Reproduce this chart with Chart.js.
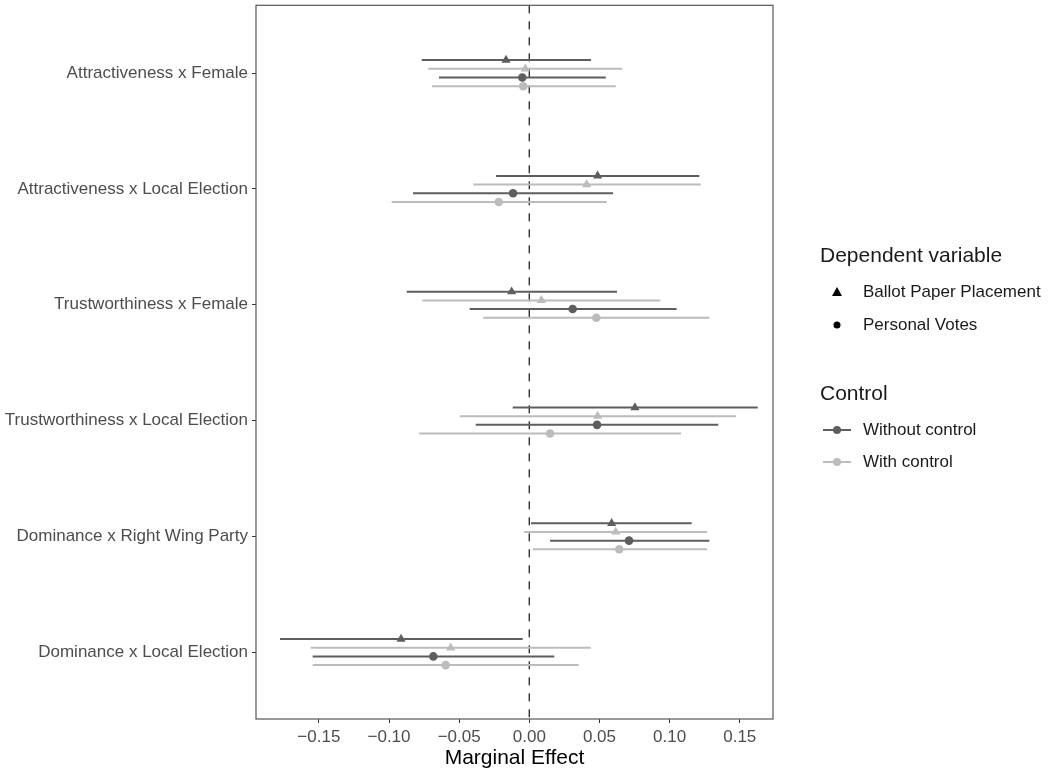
<!DOCTYPE html>
<html>
<head>
<meta charset="utf-8">
<script src="https://cdn.jsdelivr.net/npm/chart.js@4.4.1/dist/chart.umd.min.js"></script>
<style>
  html, body { margin: 0; padding: 0; background: #fff; }
  #wrap { width: 1053px; height: 771px; position: relative; }
</style>
</head>
<body>
<div id="wrap"><canvas id="chart"></canvas></div>
<script>
// categories, top to bottom
const terms = [
    'Attractiveness x Female',
    'Attractiveness x Local Election',
    'Trustworthiness x Female',
    'Trustworthiness x Local Election',
    'Dominance x Right Wing Party',
    'Dominance x Local Election'
];
const xTicks = [-0.15, -0.10, -0.05, 0.00, 0.05, 0.10, 0.15];

// Ballot Paper Placement, without control
const ballotNoCtrl = [-0.0166, 0.0487, -0.0126, 0.0753, 0.0587, -0.0914];
const ballotNoCtrlLo = [-0.0767, -0.0237, -0.0874, -0.0118, 0.0012, -0.1777];
const ballotNoCtrlHi = [0.0440, 0.1212, 0.0625, 0.1628, 0.1157, -0.0047];
// Ballot Paper Placement, with control
const ballotCtrl = [-0.0028, 0.0409, 0.0086, 0.0487, 0.0616, -0.0560];
const ballotCtrlLo = [-0.0720, -0.0399, -0.0762, -0.0496, -0.0036, -0.1558];
const ballotCtrlHi = [0.0663, 0.1222, 0.0934, 0.1473, 0.1267, 0.0438];
// Personal Votes, without control
const votesNoCtrl = [-0.0050, -0.0116, 0.0309, 0.0483, 0.0711, -0.0684];
const votesNoCtrlLo = [-0.0644, -0.0829, -0.0425, -0.0382, 0.0148, -0.1544];
const votesNoCtrlHi = [0.0545, 0.0597, 0.1050, 0.1347, 0.1283, 0.0178];
// Personal Votes, with control
const votesCtrl = [-0.0043, -0.0218, 0.0478, 0.0148, 0.0641, -0.0596];
const votesCtrlLo = [-0.0693, -0.0981, -0.0328, -0.0784, 0.0026, -0.1544];
const votesCtrlHi = [0.0616, 0.0552, 0.1283, 0.1081, 0.1267, 0.0352];

const darkGrey = '#5e5e5e';
const lightGrey = '#bcbcbc';
const fontFamily = '"Liberation Sans", Arial, Helvetica, sans-serif';

const series = [
    { label: 'Ballot Paper Placement / Without control', est: ballotNoCtrl, lo: ballotNoCtrlLo, hi: ballotNoCtrlHi, color: darkGrey, shape: 'triangle', dodge: -0.1125 },
    { label: 'Ballot Paper Placement / With control', est: ballotCtrl, lo: ballotCtrlLo, hi: ballotCtrlHi, color: lightGrey, shape: 'triangle', dodge: -0.0375 },
    { label: 'Personal Votes / Without control', est: votesNoCtrl, lo: votesNoCtrlLo, hi: votesNoCtrlHi, color: darkGrey, shape: 'circle', dodge: 0.0375 },
    { label: 'Personal Votes / With control', est: votesCtrl, lo: votesCtrlLo, hi: votesCtrlHi, color: lightGrey, shape: 'circle', dodge: 0.1125 }
];

// horizontal error bars + zero line + panel border
const errorBars = {
    id: 'errorBars',
    beforeDatasetsDraw(chart) {
        const ctx = chart.ctx;
        const xs = chart.scales.x;
        const ys = chart.scales.y;
        const area = chart.chartArea;
        ctx.save();
        // dashed zero line
        ctx.strokeStyle = '#333';
        ctx.lineWidth = 1.4;
        ctx.setLineDash([8, 8]);
        const x0 = xs.getPixelForValue(0);
        ctx.beginPath();
        ctx.moveTo(x0, area.top);
        ctx.lineTo(x0, area.bottom);
        ctx.stroke();
        ctx.setLineDash([]);
        series.forEach(s => {
            ctx.strokeStyle = s.color;
            ctx.lineWidth = 2;
            s.est.forEach((v, i) => {
                const y = ys.getPixelForValue(i + s.dodge);
                ctx.beginPath();
                ctx.moveTo(xs.getPixelForValue(s.lo[i]), y);
                ctx.lineTo(xs.getPixelForValue(s.hi[i]), y);
                ctx.stroke();
            });
        });
        ctx.restore();
    },
    afterDraw(chart) {
        const ctx = chart.ctx;
        const a = chart.chartArea;
        ctx.save();
        ctx.strokeStyle = '#555';
        ctx.lineWidth = 1.2;
        ctx.strokeRect(a.left, a.top, a.right - a.left, a.bottom - a.top);
        ctx.restore();
    }
};

// legend drawn at the right
const sideLegend = {
    id: 'sideLegend',
    afterDraw(chart) {
        const ctx = chart.ctx;
        ctx.save();
        ctx.textBaseline = 'middle';
        ctx.textAlign = 'left';
        ctx.fillStyle = '#1a1a1a';
        ctx.font = '21px ' + fontFamily;
        ctx.fillText('Dependent variable', 820, 256);
        ctx.fillText('Control', 820, 394);
        ctx.font = '17px ' + fontFamily;
        ctx.fillText('Ballot Paper Placement', 863, 292);
        ctx.fillText('Personal Votes', 863, 325);
        ctx.fillText('Without control', 863, 430);
        ctx.fillText('With control', 863, 462);
        // triangle
        ctx.fillStyle = '#000';
        ctx.beginPath();
        ctx.moveTo(837, 287);
        ctx.lineTo(842, 296);
        ctx.lineTo(832, 296);
        ctx.closePath();
        ctx.fill();
        // circle
        ctx.beginPath();
        ctx.arc(837, 325, 3.5, 0, Math.PI * 2);
        ctx.fill();
        // line + point keys
        [[430, darkGrey], [462, lightGrey]].forEach(([y, c]) => {
            ctx.strokeStyle = c;
            ctx.fillStyle = c;
            ctx.lineWidth = 2;
            ctx.beginPath();
            ctx.moveTo(823, y);
            ctx.lineTo(851, y);
            ctx.stroke();
            ctx.beginPath();
            ctx.arc(837, y, 4, 0, Math.PI * 2);
            ctx.fill();
        });
        ctx.restore();
    }
};

const ctx = document.getElementById('chart').getContext('2d');
const chart = new Chart(ctx, {
    type: 'scatter',
    data: {
        datasets: series.map(s => ({
            label: s.label,
            data: s.est.map((v, i) => ({ x: v, y: i + s.dodge })),
            pointStyle: s.shape,
            pointRadius: s.shape === 'triangle' ? 5.3 : 4.3,
            pointBackgroundColor: s.color,
            pointBorderColor: s.color,
            pointBorderWidth: 0,
            pointHoverRadius: 5
        }))
    },
    options: {
        responsive: true,
        maintainAspectRatio: false,
        animation: false,
        layout: { padding: { left: 0, right: 280, top: 4, bottom: 0 } },
        plugins: {
            legend: { display: false },
            tooltip: { enabled: false }
        },
        scales: {
            x: {
                type: 'linear',
                min: -0.1948,
                max: 0.1737,
                afterBuildTicks: scale => { scale.ticks = xTicks.map(v => ({ value: v })); },
                afterFit: scale => {
                    scale.height = 52;
                    scale.paddingLeft = 0;
                    scale.paddingRight = 0;
                },
                grid: { display: true, drawOnChartArea: false, drawTicks: true, tickLength: 4, color: '#333' },
                border: { display: false },
                ticks: {
                    color: '#4d4d4d',
                    font: { family: fontFamily, size: 17 },
                    padding: 4,
                    maxRotation: 0,
                    callback: v => v.toFixed(2).replace('-', '\u2212')
                },
                title: {
                    display: true,
                    text: 'Marginal Effect',
                    color: '#000',
                    font: { family: fontFamily, size: 21 },
                    padding: { top: 0, bottom: 0 }
                }
            },
            y: {
                type: 'linear',
                reverse: true,
                min: -0.586,
                max: 5.578,
                afterBuildTicks: scale => { scale.ticks = terms.map((t, i) => ({ value: i })); },
                afterFit: scale => {
                    scale.width = 256;
                    scale.paddingTop = 0;
                    scale.paddingBottom = 0;
                },
                grid: { display: true, drawOnChartArea: false, drawTicks: true, tickLength: 4, color: '#333' },
                border: { display: false },
                ticks: {
                    color: '#4d4d4d',
                    font: { family: fontFamily, size: 17 },
                    padding: 4,
                    callback: v => terms[v] || ''
                }
            }
        }
    },
    plugins: [errorBars, sideLegend]
});
</script>
</body>
</html>
